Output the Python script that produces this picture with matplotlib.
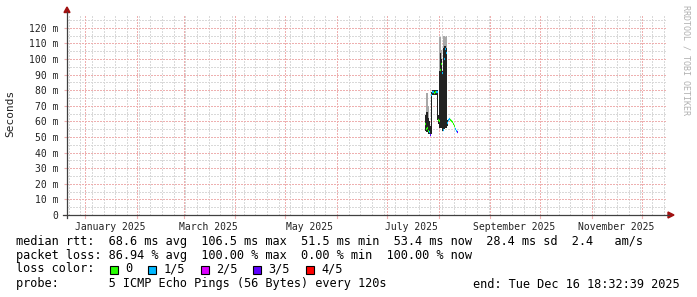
import matplotlib
matplotlib.use("Agg")
import matplotlib.pyplot as plt
import matplotlib.dates as mdates
from matplotlib.lines import Line2D
from matplotlib.patches import Polygon, Rectangle
import numpy as np
import pandas as pd

W, H, DPI = 697, 297, 100

# ---------------- data ----------------
range_start = "2024-12-21 18:32:39"
range_end = "2025-12-16 18:32:39"
sample_start = "2025-07-24 22:00"
sample_step = "864min"

median_ms = [58, 55, 56, 54, 53, 51.5, 77, 79, 79, 78, 78.5, 79, 79, 61, 60,
             93, 97, 91, 54.5, 100, 106.5, 104, 59, 61, 61.5, 61, 60, 59.5,
             58, 57, 55, 54, 53.4]
loss_level = [0, 0, 0, 0, 1, 3, 1, 1, 1, 0, 0, 1, 1, 0, 0,
              0, 0, 1, 1, 1, 1, 1, 1, 1, 1, 0, 0, 0,
              0, 0, 1, 1, 3]
smoke_lo = [54, 53, 53, 52, 52, 51, 52, 77, 77, 77, 77, 77, 61, 58, 56,
            56, 56, 54, 54, 55, 56, 56, 57, None, None, None, None, None,
            None, None, None, None, None]
smoke_hi = [64, 66, 66, 62, 60, 57, 79, 80, 80, 80, 80, 80, 80, 64, 92,
            104, 100, 92, 107, 108, 108, 107, 61, None, None, None, None, None,
            None, None, None, None, None]
smoke_top = [64, 78, 78, 70, 60, 57, 79, 80, 80, 80, 80, 80, 80, 64, 114,
             114, 106, 92, 115, 115, 114, 115, 61, None, None, None, None, None,
             None, None, None, None, None]

y_tick_values = list(range(0, 121, 10))
label_months = ["2025-01", "2025-03", "2025-05", "2025-07", "2025-09", "2025-11"]

loss_labels = ["0", "1/5", "2/5", "3/5", "4/5"]
loss_colors = ["#26ff00", "#00b8ff", "#dd00ff", "#5e00ff", "#ff0000"]

legend_line1 = "median rtt:  68.6 ms avg  106.5 ms max  51.5 ms min  53.4 ms now  28.4 ms sd  2.4   am/s"
legend_line2 = "packet loss: 86.94 % avg  100.00 % max  0.00 % min  100.00 % now"
legend_line3 = "loss color:"
legend_line4 = "probe:       5 ICMP Echo Pings (56 Bytes) every 120s"
end_text = "end: Tue Dec 16 18:32:39 2025"

# ---------------- figure ----------------
fig = plt.figure(figsize=(W / DPI, H / DPI), dpi=DPI, facecolor="white")

def fx(px):
    return px / W

def fy(py):
    return 1 - py / H

L, R, T, B = 67, 667, 14, 215
ax = fig.add_axes([fx(L), fy(B), fx(R) - fx(L), fy(T) - fy(B)])
ax.set_facecolor("white")

t0 = pd.Timestamp(range_start)
t1 = pd.Timestamp(range_end)
ax.set_xlim(t0, t1)
ymax = 128.8
ax.set_ylim(0, ymax)

for s in ax.spines.values():
    s.set_visible(False)

minor_col = "#d9d9d9"
major_col = "#eeb0b0"
dot = (0, (1.5, 1.5))
glw = 0.72

# horizontal grid
for v in np.arange(5, ymax, 5):
    if v % 10 == 0:
        ax.axhline(v, color=major_col, lw=glw, ls=dot, zorder=1, antialiased=False)
    else:
        ax.axhline(v, color=minor_col, lw=glw, ls=dot, zorder=0.9, antialiased=False)

# vertical grid: weekly (Sundays) minor, monthly major
weeks = pd.date_range(t0, t1, freq="W-SUN")
months = pd.date_range(t0, t1, freq="MS")
for w in weeks:
    if w not in months:
        ax.axvline(w, color=minor_col, lw=glw, ls=dot, zorder=0.9, antialiased=False)
for m in months:
    ax.axvline(m, color=major_col, lw=glw, ls=dot, zorder=1, antialiased=False)
    ax.axvline(m, ymin=-0.015, ymax=0, color=major_col, lw=0.8, clip_on=False)

# data
times = pd.date_range(sample_start, periods=len(median_ms), freq=sample_step)
step_days = pd.Timedelta(sample_step) / pd.Timedelta("1D")
lo = np.array([np.nan if v is None else v for v in smoke_lo], float)
hi = np.array([np.nan if v is None else v for v in smoke_hi], float)
top = np.array([np.nan if v is None else v for v in smoke_top], float)

ax.bar(times, top - lo, bottom=lo, width=step_days, color="#a8a8a8",
       linewidth=0, zorder=2)
ax.bar(times, hi - lo, bottom=lo, width=step_days, color="#222222",
       linewidth=0, zorder=3)

half = pd.Timedelta(sample_step) / 2
for t, m, l in zip(times, median_ms, loss_level):
    ax.hlines(m, t - half, t + half, color=loss_colors[l], lw=1.6, zorder=4)

# ticks
ax.set_yticks(y_tick_values)
ax.set_yticklabels(["0" if v == 0 else f"{v} m" for v in y_tick_values])
mids = []
for lm in label_months:
    ms = pd.Timestamp(lm + "-01")
    me = ms + pd.offsets.MonthBegin(1)
    mids.append(ms + (me - ms) / 2)
ax.set_xticks(mids)
ax.set_xticklabels([pd.Timestamp(m + "-01").strftime("%B %Y") for m in label_months])
ax.tick_params(axis="x", length=0, pad=5, labelsize=7)
ax.tick_params(axis="y", length=2, color=major_col, pad=4, labelsize=7)
for lab in ax.get_xticklabels() + ax.get_yticklabels():
    lab.set_family("DejaVu Sans Mono")
    lab.set_color("#222222")

# axes lines and arrows
axis_col = "#404040"
arrow_col = "#a01010"
fig.add_artist(Line2D([fx(63), fx(669)], [fy(215), fy(215)], color=axis_col,
                      lw=0.9, transform=fig.transFigure))
fig.add_artist(Line2D([fx(67), fx(67)], [fy(218), fy(12)], color=axis_col,
                      lw=0.9, transform=fig.transFigure))
fig.add_artist(Polygon([[fx(668), fy(212)], [fx(674), fy(215)], [fx(668), fy(218)]],
                       closed=True, color=arrow_col, transform=fig.transFigure))
fig.add_artist(Polygon([[fx(64), fy(12.5)], [fx(67), fy(7)], [fx(70), fy(12.5)]],
                       closed=True, color=arrow_col, transform=fig.transFigure))

# labels
fig.text(fx(10), fy(113.5), "Seconds", rotation=90, ha="center", va="center",
         family="DejaVu Sans Mono", fontsize=8, color="#222222")
fig.text(fx(686), fy(5), "RRDTOOL / TOBI OETIKER", rotation=270, ha="center",
         va="top", family="DejaVu Sans Mono", fontsize=6, color="#b0b0b0")

lfs = 8.6
mono = "DejaVu Sans Mono"
fig.text(fx(16), fy(241), legend_line1, ha="left", va="center", family=mono,
         fontsize=lfs, color="black")
fig.text(fx(16), fy(255), legend_line2, ha="left", va="center", family=mono,
         fontsize=lfs, color="black")
fig.text(fx(16), fy(269), legend_line3, ha="left", va="center", family=mono,
         fontsize=lfs, color="black")
fig.text(fx(16), fy(284), legend_line4, ha="left", va="center", family=mono,
         fontsize=lfs, color="black")
fig.text(fx(680), fy(284), end_text, ha="right", va="center", family=mono,
         fontsize=lfs, color="black")

cw = 7.2
xpos = 110
for lab, col in zip(loss_labels, loss_colors):
    fig.add_artist(Rectangle((fx(xpos), fy(273.5)), fx(8), 8 / H, facecolor=col,
                             edgecolor="black", lw=0.8, transform=fig.transFigure))
    fig.text(fx(xpos + 15), fy(269), lab, ha="left", va="center", family=mono,
             fontsize=lfs, color="black")
    xpos += 15 + cw * len(lab) + 16

fig.savefig("out.png", dpi=DPI, facecolor="white")
